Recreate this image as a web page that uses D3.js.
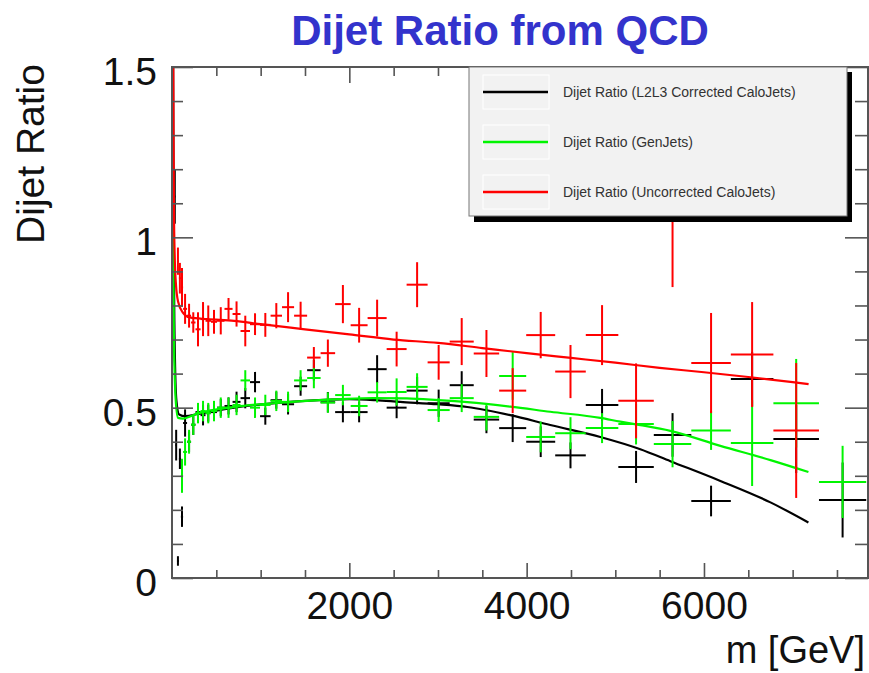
<!DOCTYPE html>
<html>
<head>
<meta charset="utf-8">
<script src="https://d3js.org/d3.v7.min.js"></script>
<style>
  html, body { margin: 0; padding: 0; background: #fff; }
  svg { display: block; font-family: "Liberation Sans", Arial, Helvetica, sans-serif; }
</style>
</head>
<body>
<svg id="chart" width="869" height="673"></svg>
<script>
// Dijet mass bins (GeV)
const binEdges = [25, 38, 56, 78, 100, 125, 170, 215, 265, 322, 378, 440, 508, 592, 683, 773,
  880, 993, 1112, 1241, 1377, 1524, 1676, 1840, 2015, 2206, 2421, 2646, 2883, 3132, 3403,
  3690, 3995, 4322, 4667, 5034, 5434, 5857, 6303, 6783, 7297, 7830];

// L2L3 corrected calo jets
const corrValues = [1.12, 0.39, 0.05, 0.35, 0.18, 0.455, 0.40, 0.45, 0.487, 0.478, 0.484, 0.487,
  0.50, 0.505, 0.517, 0.528, 0.575, 0.475, 0.522, 0.51, 0.563, 0.61, 0.516, 0.487, 0.487, 0.613,
  0.50, 0.55, 0.513, 0.566, 0.465, 0.44, 0.40, 0.36, 0.508, 0.326, 0.42, 0.226, 0.584, 0.408, 0.229];
const corrErrors = [0.08, 0.045, 0.014, 0.03, 0.03, 0.04, 0.03, 0.03, 0.02, 0.03, 0.025, 0.025,
  0.025, 0.025, 0.03, 0.03, 0.03, 0.025, 0.025, 0.03, 0.028, 0.03, 0.03, 0.03, 0.03, 0.041,
  0.031, 0.04, 0.04, 0.041, 0.04, 0.041, 0.045, 0.038, 0.047, 0.047, 0.064, 0.045, 0.08, 0.1, 0.11];

// Generator-level jets
const genValues = [null, null, null, null, 0.30, 0.37, 0.40, 0.45, 0.484, 0.49, 0.484, 0.49,
  0.50, 0.50, 0.508, 0.58, 0.50, 0.508, 0.52, 0.517, 0.58, 0.587, 0.515, 0.537, 0.505, 0.545,
  0.546, 0.561, 0.493, 0.528, 0.473, 0.593, 0.414, 0.425, 0.44, 0.452, 0.393, 0.433, 0.396, 0.513, 0.282];
const genErrors = [null, null, null, null, 0.05, 0.04, 0.035, 0.03, 0.03, 0.03, 0.03, 0.03,
  0.03, 0.03, 0.03, 0.03, 0.03, 0.03, 0.03, 0.03, 0.03, 0.03, 0.03, 0.03, 0.03, 0.03,
  0.04, 0.04, 0.035, 0.041, 0.04, 0.07, 0.045, 0.047, 0.044, 0.06, 0.068, 0.057, 0.126, 0.13, 0.106];

// Uncorrected calo jets
const rawValues = [null, null, 0.93, 0.88, 0.853, 0.79, 0.77, 0.75, 0.73, 0.76, 0.755, 0.752,
  0.755, 0.79, 0.775, 0.725, 0.745, 0.743, 0.77, 0.795, 0.77, 0.647, 0.66, 0.804, 0.742, 0.763,
  0.672, 0.861, 0.633, 0.694, 0.659, 0.55, 0.713, 0.606, 0.713, 0.52, 1.07, 0.631, 0.656, 0.433, null];
const rawErrors = [null, null, 0.04, 0.045, 0.057, 0.044, 0.035, 0.03, 0.05, 0.05, 0.045, 0.035,
  0.04, 0.032, 0.037, 0.045, 0.032, 0.035, 0.037, 0.044, 0.041, 0.031, 0.04, 0.056, 0.051, 0.054,
  0.051, 0.066, 0.051, 0.069, 0.069, 0.066, 0.068, 0.078, 0.088, 0.11, 0.216, 0.147, 0.154, 0.198, null];

// Fitted curves, sampled as [mass, ratio]
const corrFit = [[12, 1.55], [15, 1.32], [19, 1.05], [25, 0.8], [35, 0.62], [50, 0.52], [80, 0.48],
  [150, 0.475], [300, 0.482], [700, 0.50], [1100, 0.512], [1500, 0.52], [2000, 0.525], [2300, 0.522],
  [2573, 0.517], [3000, 0.51], [3330, 0.502], [3815, 0.478], [4266, 0.449], [4831, 0.414],
  [5282, 0.378], [5621, 0.343], [6185, 0.285], [6750, 0.222], [7178, 0.163]];
const genFit = [[8, 1.35], [12, 1.1], [16, 0.9], [21, 0.72], [30, 0.6], [45, 0.51], [68, 0.47],
  [120, 0.468], [300, 0.484], [700, 0.502], [1140, 0.513], [1524, 0.52], [1900, 0.525], [2270, 0.528],
  [2650, 0.527], [3000, 0.522], [3330, 0.516], [3815, 0.503], [4266, 0.488], [4831, 0.47],
  [5056, 0.459], [5282, 0.449], [5621, 0.432], [6185, 0.388], [6750, 0.346], [7178, 0.311]];
const rawFit = [[14, 1.55], [17, 1.3], [22, 1.08], [30, 0.95], [45, 0.86], [70, 0.81], [120, 0.78],
  [200, 0.765], [400, 0.76], [700, 0.755], [1000, 0.745], [1500, 0.73], [2000, 0.715], [2500, 0.70],
  [3000, 0.69], [3500, 0.675], [4000, 0.66], [4500, 0.646], [5000, 0.632], [5500, 0.617],
  [6000, 0.604], [6500, 0.59], [7000, 0.575], [7180, 0.569]];

const yTickLabels = ["0", "0.5", "1", "1.5"];
const xTickLabels = ["2000", "4000", "6000"];
const legendLabels = ["Dijet Ratio (L2L3 Corrected CaloJets)", "Dijet Ratio (GenJets)", "Dijet Ratio (Uncorrected CaloJets)"];

const svg = d3.select("#chart");
const frame = { left: 172, right: 868, top: 67, bottom: 578 };
const x = d3.scaleLinear().domain([0, 7850]).range([frame.left, frame.right]);
const y = d3.scaleLinear().domain([0, 1.5]).range([frame.bottom, frame.top]);

svg.append("defs").append("clipPath").attr("id", "plotClip")
  .append("rect").attr("x", frame.left).attr("y", frame.top)
  .attr("width", frame.right - frame.left).attr("height", frame.bottom - frame.top);

const bins = d3.pairs(binEdges);

function buildPoints(values, errors) {
  return bins.map((b, i) => ({ lo: b[0], hi: b[1], mid: (b[0] + b[1]) / 2, v: values[i], e: errors[i] }))
    .filter(d => d.v != null);
}

const series = [
  { name: "corr", color: "#000000", values: corrValues, errors: corrErrors, fit: corrFit },
  { name: "gen", color: "#00f500", values: genValues, errors: genErrors, fit: genFit },
  { name: "raw", color: "#ff0000", values: rawValues, errors: rawErrors, fit: rawFit }
];

const plot = svg.append("g").attr("clip-path", "url(#plotClip)");
const line = d3.line().x(d => x(d[0])).y(d => y(d[1])).curve(d3.curveMonotoneX);

series.forEach(s => {
  const g = plot.append("g").attr("class", "series-" + s.name)
    .attr("stroke", s.color).attr("stroke-width", 2).attr("fill", "none");
  const pts = buildPoints(s.values, s.errors);
  g.selectAll("line.h").data(pts).join("line").attr("class", "h")
    .attr("x1", d => x(d.lo)).attr("x2", d => x(d.hi))
    .attr("y1", d => y(d.v)).attr("y2", d => y(d.v));
  g.selectAll("line.v").data(pts).join("line").attr("class", "v")
    .attr("x1", d => x(d.mid)).attr("x2", d => x(d.mid))
    .attr("y1", d => y(d.v - d.e)).attr("y2", d => y(d.v + d.e));
  g.append("path").datum(s.fit).attr("d", line).attr("stroke-width", 2.2);
});

// Frame and ticks
const axisColor = "#555";
const xMajor = [2000, 4000, 6000];
const xMinor = d3.range(500, 7850, 500).filter(v => !xMajor.includes(v));
const yMajor = [0, 0.5, 1, 1.5];
const yMinor = d3.range(1, 15).map(v => v / 10).filter(v => !yMajor.includes(v));

function tickAxis(axisFn, scale, vals, size, tx, ty) {
  const g = svg.append("g").attr("transform", `translate(${tx},${ty})`)
    .call(axisFn(scale).tickValues(vals).tickSize(size).tickFormat(""));
  g.select(".domain").remove();
  g.selectAll(".tick line").attr("stroke", axisColor).attr("stroke-width", 1.6);
}
// bottom axis ticks point up (inside), top axis ticks point down
tickAxis(d3.axisTop, x, xMajor, 15, 0, frame.bottom);
tickAxis(d3.axisTop, x, xMinor, 8, 0, frame.bottom);
tickAxis(d3.axisBottom, x, xMajor, 16, 0, frame.top);
tickAxis(d3.axisBottom, x, xMinor, 9, 0, frame.top);
// left ticks point right, right ticks point left
tickAxis(d3.axisRight, y, yMajor, 21, frame.left, 0);
tickAxis(d3.axisRight, y, yMinor, 11, frame.left, 0);
tickAxis(d3.axisLeft, y, yMajor, 23, frame.right, 0);
tickAxis(d3.axisLeft, y, yMinor, 13, frame.right, 0);

svg.append("rect").attr("x", frame.left).attr("y", frame.top)
  .attr("width", frame.right - frame.left).attr("height", frame.bottom - frame.top)
  .attr("fill", "none").attr("stroke", axisColor).attr("stroke-width", 2);

// Tick labels
const yLab = svg.append("g").attr("transform", `translate(${frame.left - 15},0)`)
  .call(d3.axisLeft(y).tickValues(yMajor).tickSize(0).tickPadding(0).tickFormat((d, i) => yTickLabels[i]));
yLab.select(".domain").remove();
yLab.selectAll("text").attr("font-size", 39).attr("fill", "#111")
  .attr("font-family", "Liberation Sans, Arial, sans-serif").attr("dy", "0.45em");

const xLab = svg.append("g").attr("transform", `translate(0,${frame.bottom + 12})`)
  .call(d3.axisBottom(x).tickValues(xMajor).tickSize(0).tickPadding(0).tickFormat((d, i) => xTickLabels[i]));
xLab.select(".domain").remove();
xLab.selectAll("text").attr("font-size", 39).attr("fill", "#111")
  .attr("font-family", "Liberation Sans, Arial, sans-serif").attr("dy", "0.75em");

// Axis titles
svg.append("text").attr("x", 865).attr("y", 663).attr("text-anchor", "end")
  .attr("font-size", 38).attr("fill", "#111").text("m [GeV]");
svg.append("text").attr("transform", "translate(44,154) rotate(-90)").attr("text-anchor", "middle")
  .attr("font-size", 39).attr("fill", "#111").text("Dijet Ratio");

// Title
svg.append("text").attr("x", 500).attr("y", 45).attr("text-anchor", "middle")
  .attr("font-size", 42).attr("font-weight", "bold").attr("fill", "#3333cc")
  .text("Dijet Ratio from QCD");

// Legend
const lg = svg.append("g");
lg.append("rect").attr("x", 474).attr("y", 72).attr("width", 378).attr("height", 150).attr("fill", "#000");
lg.append("rect").attr("x", 469).attr("y", 67).attr("width", 378).attr("height", 149)
  .attr("fill", "#f2f2f2").attr("stroke", "#777").attr("stroke-width", 1);
legendLabels.forEach((lab, i) => {
  const cy = 92 + i * 50;
  lg.append("rect").attr("x", 483).attr("y", cy - 17).attr("width", 66).attr("height", 34)
    .attr("fill", "none").attr("stroke", "#fff").attr("stroke-width", 1);
  lg.append("line").attr("x1", 483).attr("x2", 548).attr("y1", cy).attr("y2", cy)
    .attr("stroke", series[i].color).attr("stroke-width", 2.5);
  lg.append("text").attr("x", 563).attr("y", cy + 5).attr("font-size", 14).attr("fill", "#333").text(lab);
});
</script>
</body>
</html>
